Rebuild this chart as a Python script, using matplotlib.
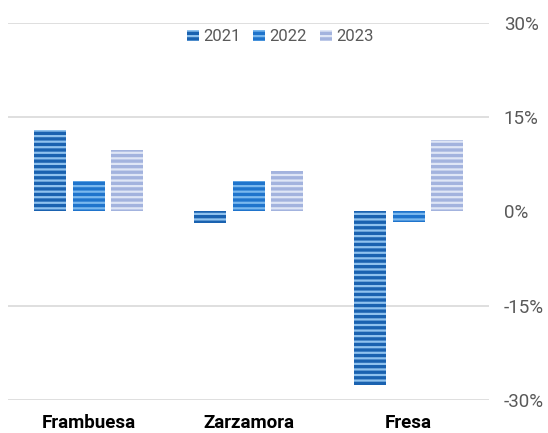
import matplotlib.pyplot as plt
import numpy as np

# Year-on-year change by fruit, percent
Categories = ["Frambuesa", "Zarzamora", "Fresa"]
Years = ["2021", "2022", "2023"]
Change2021 = [13.0, -1.8, -27.6]
Change2022 = [4.9, 4.9, -1.7]
Change2023 = [9.7, 6.4, 11.4]
YTicks = [-30, -15, 0, 15, 30]

# fill colour / stripe colour for each year
FaceColours = ["#1a62b0", "#1f74cc", "#a3b3de"]
StripeColours = ["#8fc2ee", "#7ab8ee", "#dfe6f6"]

BarWidth = 0.2
Offsets = [-0.24, 0, 0.24]
TextGrey = "#595959"

plt.rcParams['font.family'] = ['Roboto', 'DejaVu Sans']
plt.rcParams['hatch.linewidth'] = 1.6

fig = plt.figure(figsize=(5.48, 4.33), dpi=100)
ax = fig.add_axes([0.0155, 0.0762, 0.876, 0.8714])

x = np.arange(len(Categories))
Series = [Change2021, Change2022, Change2023]
for i, vals in enumerate(Series):
    ax.bar(x + Offsets[i], vals, BarWidth, color=FaceColours[i],
           edgecolor=StripeColours[i], linewidth=0, hatch='---',
           label=Years[i], zorder=3)

# gridlines everywhere except at zero
for t in YTicks:
    if t != 0:
        ax.axhline(t, color="#d9d9d9", linewidth=1.2, zorder=1)

ax.set_xlim(-0.5, len(Categories) - 0.5)
ax.set_ylim(-30, 30)
ax.set_xticks(x)
ax.set_xticklabels(Categories, fontsize=13.5, fontweight='bold', color='black')
ax.set_yticks(YTicks)
ax.set_yticklabels([f"{t}%" for t in YTicks], fontsize=13.5, color=TextGrey)
ax.yaxis.tick_right()
ax.tick_params(axis='y', length=0, pad=11)
ax.tick_params(axis='x', length=0, pad=10)
for s in ax.spines.values():
    s.set_visible(False)

ax.legend(loc='upper center', bbox_to_anchor=(0.566, 1.005), ncol=3, frameon=False,
          fontsize=12, handlelength=0.7, handleheight=0.6, handletextpad=0.25,
          columnspacing=0.8, labelcolor=TextGrey, borderpad=0)

fig.savefig("out.png", dpi=100)
